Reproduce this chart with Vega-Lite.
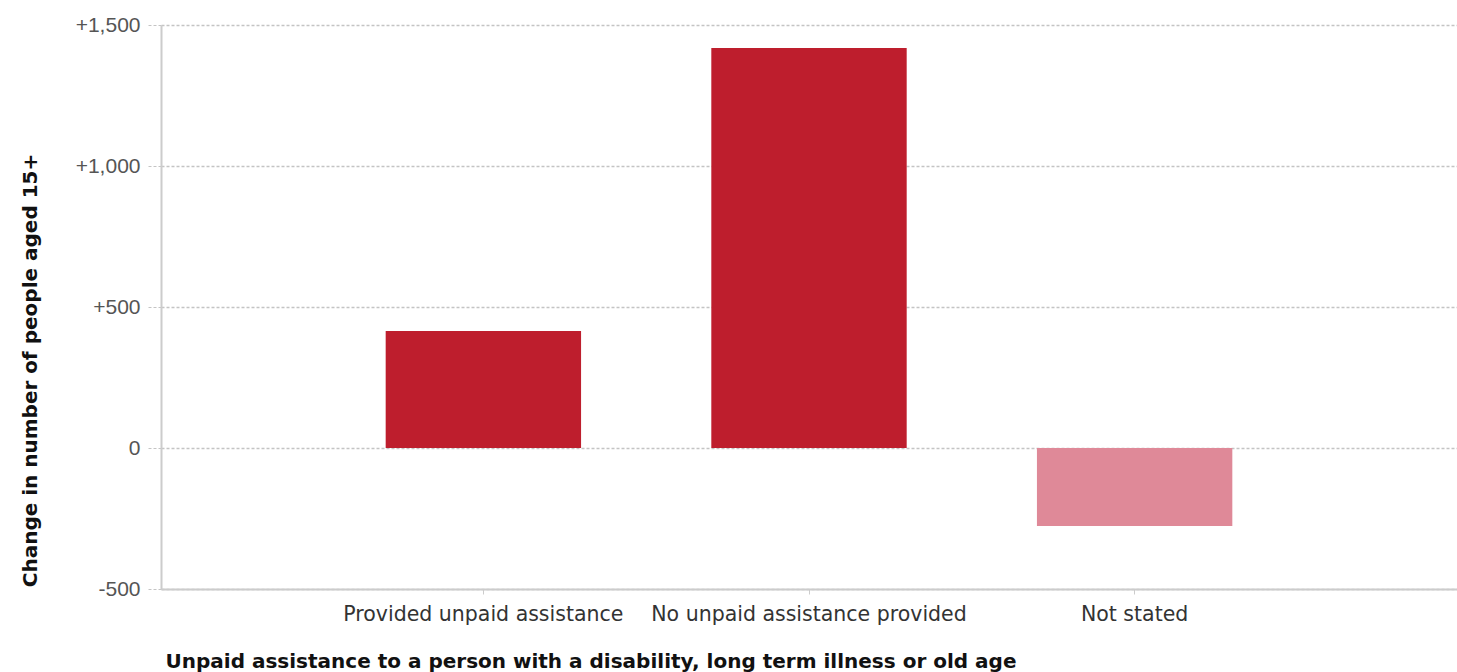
{
  "$schema": "https://vega.github.io/schema/vega-lite/v6.json",
  "width": 1296,
  "height": 564,
  "autosize": {"type": "none"},
  "padding": {"left": 161, "top": 25, "right": 0, "bottom": 83},
  "background": "white",
  "config": {"view": {"stroke": null}, "font": "Liberation Sans"},
  "data": {
    "values": [
      {"category": "Provided unpaid assistance", "value": 415},
      {"category": "No unpaid assistance provided", "value": 1418},
      {"category": "Not stated", "value": -277}
    ]
  },
  "mark": {"type": "bar"},
  "encoding": {
    "x": {
      "field": "category",
      "type": "nominal",
      "sort": null,
      "scale": {"paddingInner": 0.4, "paddingOuter": 0.69},
      "axis": {
        "title": "Unpaid assistance to a person with a disability, long term illness or old age",
        "titleFont": "DejaVu Sans",
        "titleFontSize": 20,
        "titleFontWeight": "bold",
        "titleColor": "#111",
        "titleAnchor": "start",
        "titleAlign": "left",
        "titleBaseline": "alphabetic",
        "titleX": 4,
        "titleY": 78,
        "labelAngle": 0,
        "labelFont": "DejaVu Sans",
        "labelFontSize": 20.5,
        "labelLimit": 0,
        "labelColor": "#333",
        "labelBaseline": "alphabetic",
        "labelPadding": 26,
        "tickSize": 5,
        "tickColor": "#ccc",
        "domainColor": "#ccc",
        "domainWidth": 2,
        "grid": false
      }
    },
    "y": {
      "field": "value",
      "type": "quantitative",
      "scale": {"domain": [-500, 1500], "nice": false, "zero": true},
      "axis": {
        "values": [-500, 0, 500, 1000, 1500],
        "labelExpr": "datum.value > 0 ? '+' + format(datum.value, ',') : (datum.value < 0 ? '-' + format(-datum.value, ',') : '0')",
        "title": "Change in number of people aged 15+",
        "titleFont": "DejaVu Sans",
        "titleFontSize": 20,
        "titleFontWeight": "bold",
        "titleColor": "#111",
        "titleAngle": -90,
        "titleAlign": "center",
        "titleBaseline": "alphabetic",
        "titleX": -125,
        "titleY": 345,
        "labelFont": "Liberation Sans",
        "labelFontSize": 21,
        "labelColor": "#555",
        "labelPadding": 6,
        "tickSize": 15,
        "tickColor": "#c4c4c4",
        "tickDash": [3, 2],
        "gridColor": "#c4c4c4",
        "gridDash": [3, 2],
        "gridWidth": 1.5,
        "domainColor": "#ccc",
        "domainWidth": 2
      }
    },
    "color": {
      "condition": {"test": "datum.value < 0", "value": "#DF8998"},
      "value": "#BE1E2D"
    }
  }
}
